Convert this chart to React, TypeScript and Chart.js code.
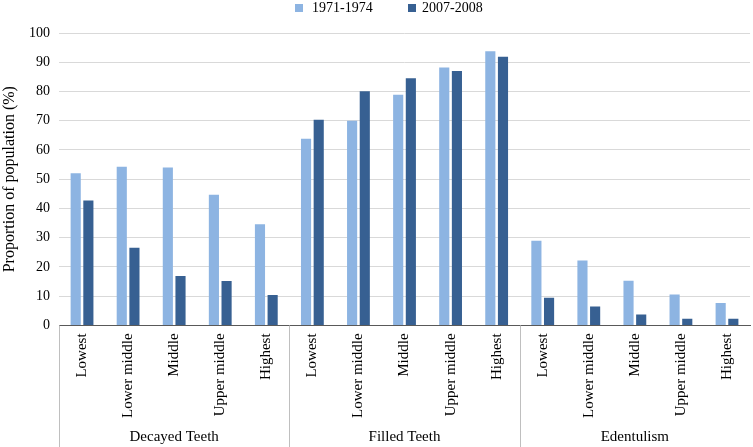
import React, { useEffect, useRef } from "react";
import { Chart, registerables } from "chart.js";

Chart.register(...registerables);

const incomeLevels = ["Lowest", "Lower middle", "Middle", "Upper middle", "Highest"];
const groups = ["Decayed Teeth", "Filled Teeth", "Edentulism"];
const seriesNames = ["1971-1974", "2007-2008"];
const values1971 = [52, 54.3, 54, 44.7, 34.6, 63.8, 70, 78.9, 88.2, 93.8, 29, 22.2, 15.3, 10.6, 7.7];
const values2007 = [42.7, 26.6, 16.9, 15.2, 10.4, 70.3, 80.1, 84.5, 87, 91.9, 9.5, 6.5, 3.7, 2.3, 2.3];
const yTicks = [0, 10, 20, 30, 40, 50, 60, 70, 80, 90, 100];

const LIGHT = "#8DB4E2";
const DARK = "#376092";
const FONT = "'Liberation Serif', 'Times New Roman', serif";

const labels: string[] = [];
groups.forEach(() => incomeLevels.forEach((l) => labels.push(l)));

const decorPlugin = {
  id: "decor",
  afterDraw(chart: any) {
    const ctx = chart.ctx;
    const x = chart.scales.x;
    const area = chart.chartArea;
    const H = chart.height;
    ctx.save();
    // group dividers
    ctx.strokeStyle = "#BFBFBF";
    ctx.lineWidth = 1;
    const n = incomeLevels.length;
    const bounds: number[] = [area.left];
    for (let g = 1; g < groups.length; g++) {
      const a = x.getPixelForValue(g * n - 1);
      const b = x.getPixelForValue(g * n);
      bounds.push((a + b) / 2);
    }
    bounds.push(area.right);
    for (let i = 0; i < bounds.length - 1; i++) {
      const px = Math.round(bounds[i]) + 0.5;
      ctx.beginPath();
      ctx.moveTo(px, area.bottom);
      ctx.lineTo(px, H);
      ctx.stroke();
    }
    // group labels
    ctx.fillStyle = "#000";
    ctx.font = `15px ${FONT}`;
    ctx.textAlign = "center";
    ctx.textBaseline = "middle";
    for (let g = 0; g < groups.length; g++) {
      ctx.fillText(groups[g], (bounds[g] + bounds[g + 1]) / 2, H - 10);
    }
    // legend
    const colors = [LIGHT, DARK];
    const squareX = [295, 408];
    const textX = [312, 422];
    ctx.font = `14px ${FONT}`;
    ctx.textAlign = "left";
    for (let i = 0; i < seriesNames.length; i++) {
      ctx.fillStyle = colors[i];
      ctx.fillRect(squareX[i], 4, 8, 8);
      ctx.fillStyle = "#000";
      ctx.fillText(seriesNames[i], textX[i], 8.5);
    }
    ctx.restore();
  },
};

export default function App() {
  const ref = useRef<HTMLCanvasElement>(null);
  useEffect(() => {
    document.body.style.margin = "0";
    const chart = new Chart(ref.current!, {
      type: "bar",
      data: {
        labels,
        datasets: [
          {
            label: seriesNames[0],
            data: values1971,
            backgroundColor: LIGHT,
            categoryPercentage: 0.55,
            barPercentage: 0.8,
          },
          {
            label: seriesNames[1],
            data: values2007,
            backgroundColor: DARK,
            categoryPercentage: 0.55,
            barPercentage: 0.8,
          },
        ],
      },
      options: {
        responsive: false,
        animation: false,
        layout: { padding: { top: 33, left: 0, right: -3, bottom: 21 } },
        plugins: {
          legend: { display: false },
          tooltip: { enabled: false },
        },
        scales: {
          x: {
            grid: { display: false, drawTicks: false },
            border: { display: true, color: "#595959", width: 1 },
            ticks: {
              autoSkip: false,
              minRotation: 90,
              maxRotation: 90,
              padding: 8,
              color: "#000",
              font: { family: FONT, size: 15 },
            },
          },
          y: {
            min: 0,
            max: 100,
            afterBuildTicks: (scale: any) => {
              scale.ticks = yTicks.map((v) => ({ value: v }));
            },
            afterFit: (scale: any) => {
              scale.width = 59;
            },
            grid: { color: "#D9D9D9", drawTicks: false },
            border: { display: false },
            ticks: {
              padding: 9,
              color: "#000",
              font: { family: FONT, size: 14 },
            },
            title: {
              display: true,
              text: "Proportion of population (%)",
              color: "#000",
              padding: { top: 0, bottom: 0 },
              font: { family: FONT, size: 16 },
            },
          },
        },
      },
      plugins: [decorPlugin],
    });
    return () => chart.destroy();
  }, []);
  return (
    <div style={{ position: "fixed", left: 0, top: 0, width: 753, height: 447 }}>
      <canvas ref={ref} width={753} height={447} style={{ display: "block" }} />
    </div>
  );
}
